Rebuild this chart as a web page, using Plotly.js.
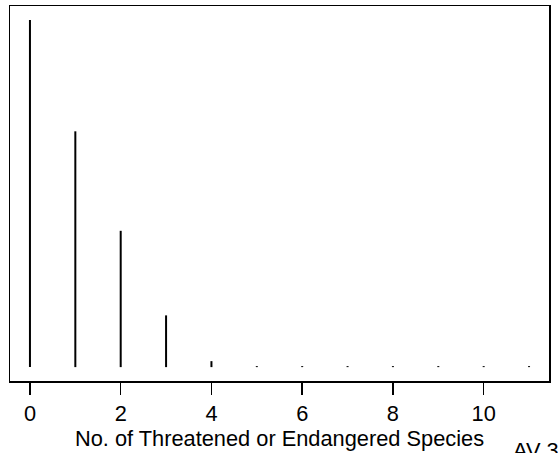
<!DOCTYPE html>
<html>
<head>
<meta charset="utf-8">
<script src="https://cdn.plot.ly/plotly-3.0.1.min.js"></script>
<style>html,body{margin:0;padding:0;background:#fff}#chart{width:558px;height:453px}</style>
</head>
<body>
<div id="chart"></div>
<script>
// Number of threatened or endangered species (categories) and frequencies
const speciesCounts = [0, 1, 2, 3, 4, 5, 6, 7, 8, 9, 10, 11];
const frequencies = [349, 237, 137, 52, 6, 1, 1, 1, 1, 1, 1, 1];
const tickValues = [0, 2, 4, 6, 8, 10];
const tickLabels = ["0", "2", "4", "6", "8", "10"];
const xTitle = "No. of Threatened or Endangered Species";
const cornerLabel = "AV 3";

const xs = [], ys = [];
speciesCounts.forEach((k, i) => { xs.push(k, k, null); ys.push(0, frequencies[i], null); });

const maxF = Math.max(...frequencies);
const nMin = Math.min(...speciesCounts), nMax = Math.max(...speciesCounts);
const xPad = (nMax - nMin) * 0.04;

const font = "Liberation Sans, Arial, Helvetica, sans-serif";
const fs = 21.8;

Plotly.newPlot('chart', [{
  type: 'scatter', mode: 'lines', x: xs, y: ys,
  line: {color: '#000', width: 2}, hoverinfo: 'skip', showlegend: false
}], {
  width: 558, height: 453,
  margin: {l: 10, r: 9, t: 6, b: 72},
  paper_bgcolor: '#fff', plot_bgcolor: '#fff',
  font: {family: font, color: '#000', size: fs},
  xaxis: {
    range: [nMin - xPad, nMax + xPad],
    tickvals: tickValues, ticktext: tickLabels,
    ticks: 'outside', ticklen: 12, tickwidth: 1.5, tickcolor: '#000',
    showline: true, linecolor: '#000', linewidth: 1.5, mirror: true,
    showgrid: false, zeroline: false,
    tickfont: {family: font, size: fs, color: '#000'},
    title: {text: xTitle, font: {family: font, size: fs, color: '#000'}, standoff: 0}
  },
  yaxis: {
    range: [-0.04 * maxF, 1.04 * maxF],
    showticklabels: false, ticks: '',
    showline: true, linecolor: '#000', linewidth: 1.5, mirror: true,
    showgrid: false, zeroline: false
  },
  annotations: [{
    text: cornerLabel, xref: 'paper', yref: 'paper', x: 0.93, y: -0.146,
    xanchor: 'left', yanchor: 'top', showarrow: false,
    font: {family: font, size: fs, color: '#000'}
  }]
}, {staticPlot: true, displayModeBar: false});
</script>
</body>
</html>
